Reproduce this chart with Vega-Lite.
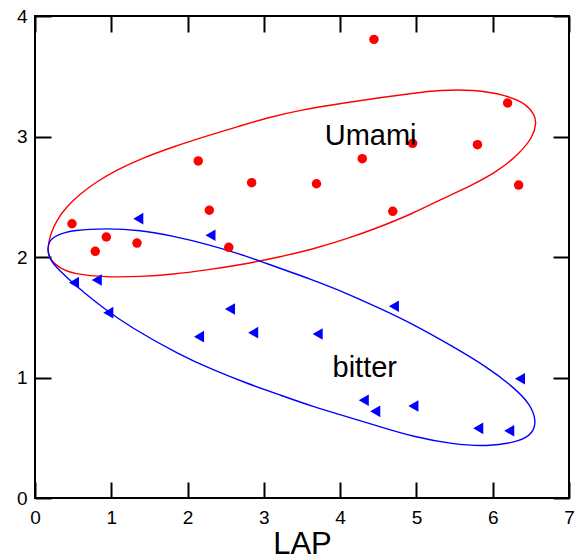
{
  "$schema": "https://vega.github.io/schema/vega-lite/v6.json",
  "width": 534,
  "height": 482,
  "autosize": {"type": "none"},
  "padding": {"left": 35, "top": 16, "right": 15, "bottom": 62},
  "config": {
    "view": {"stroke": "#000", "strokeWidth": 2},
    "font": "Liberation Sans",
    "axis": {
      "domain": false, "grid": false,
      "tickColor": "#000", "tickWidth": 2, "tickSize": -16,
      "labelColor": "#000", "labelFontSize": 19, "labelFont": "Liberation Sans",
      "labelFlush": false, "labelOverlap": false,
      "titleColor": "#000", "titleFont": "Liberation Sans", "titleFontWeight": "normal"
    }
  },
  "datasets": {
    "pts": [
      {"taste": "Umami", "LAP": 0.485, "v": 2.276},
      {"taste": "Umami", "LAP": 0.79, "v": 2.047},
      {"taste": "Umami", "LAP": 0.935, "v": 2.166},
      {"taste": "Umami", "LAP": 1.337, "v": 2.116},
      {"taste": "Umami", "LAP": 2.14, "v": 2.797},
      {"taste": "Umami", "LAP": 2.84, "v": 2.617},
      {"taste": "Umami", "LAP": 2.285, "v": 2.388},
      {"taste": "Umami", "LAP": 2.54, "v": 2.08},
      {"taste": "Umami", "LAP": 4.443, "v": 3.806},
      {"taste": "Umami", "LAP": 6.195, "v": 3.278},
      {"taste": "Umami", "LAP": 4.95, "v": 2.943},
      {"taste": "Umami", "LAP": 5.8, "v": 2.932},
      {"taste": "Umami", "LAP": 4.29, "v": 2.816},
      {"taste": "Umami", "LAP": 3.69, "v": 2.608},
      {"taste": "Umami", "LAP": 6.34, "v": 2.597},
      {"taste": "Umami", "LAP": 4.69, "v": 2.379},
      {"taste": "bitter", "LAP": 1.354, "v": 2.318},
      {"taste": "bitter", "LAP": 2.3, "v": 2.18},
      {"taste": "bitter", "LAP": 0.511, "v": 1.787},
      {"taste": "bitter", "LAP": 0.81, "v": 1.809},
      {"taste": "bitter", "LAP": 0.961, "v": 1.538},
      {"taste": "bitter", "LAP": 2.15, "v": 1.339},
      {"taste": "bitter", "LAP": 2.556, "v": 1.568},
      {"taste": "bitter", "LAP": 2.86, "v": 1.372},
      {"taste": "bitter", "LAP": 3.705, "v": 1.361},
      {"taste": "bitter", "LAP": 4.705, "v": 1.591},
      {"taste": "bitter", "LAP": 6.357, "v": 0.99},
      {"taste": "bitter", "LAP": 4.31, "v": 0.811},
      {"taste": "bitter", "LAP": 4.46, "v": 0.719},
      {"taste": "bitter", "LAP": 4.96, "v": 0.763},
      {"taste": "bitter", "LAP": 5.81, "v": 0.578},
      {"taste": "bitter", "LAP": 6.216, "v": 0.558}
    ],
    "ell": [
      {"taste": "Umami", "i": 0, "LAP": 0.161, "v": 2.058},
      {"taste": "Umami", "i": 1, "LAP": 0.197, "v": 2.183},
      {"taste": "Umami", "i": 2, "LAP": 0.284, "v": 2.307},
      {"taste": "Umami", "i": 3, "LAP": 0.415, "v": 2.417},
      {"taste": "Umami", "i": 4, "LAP": 0.59, "v": 2.523},
      {"taste": "Umami", "i": 5, "LAP": 0.808, "v": 2.625},
      {"taste": "Umami", "i": 6, "LAP": 1.07, "v": 2.722},
      {"taste": "Umami", "i": 7, "LAP": 1.376, "v": 2.813},
      {"taste": "Umami", "i": 8, "LAP": 1.812, "v": 2.915},
      {"taste": "Umami", "i": 9, "LAP": 2.249, "v": 3.004},
      {"taste": "Umami", "i": 10, "LAP": 2.686, "v": 3.087},
      {"taste": "Umami", "i": 11, "LAP": 3.035, "v": 3.154},
      {"taste": "Umami", "i": 12, "LAP": 3.472, "v": 3.22},
      {"taste": "Umami", "i": 13, "LAP": 4.084, "v": 3.282},
      {"taste": "Umami", "i": 14, "LAP": 4.52, "v": 3.322},
      {"taste": "Umami", "i": 15, "LAP": 4.952, "v": 3.359},
      {"taste": "Umami", "i": 16, "LAP": 5.306, "v": 3.386},
      {"taste": "Umami", "i": 17, "LAP": 5.742, "v": 3.39},
      {"taste": "Umami", "i": 18, "LAP": 6.18, "v": 3.344},
      {"taste": "Umami", "i": 19, "LAP": 6.442, "v": 3.27},
      {"taste": "Umami", "i": 20, "LAP": 6.551, "v": 3.178},
      {"taste": "Umami", "i": 21, "LAP": 6.573, "v": 3.11},
      {"taste": "Umami", "i": 22, "LAP": 6.528, "v": 2.998},
      {"taste": "Umami", "i": 23, "LAP": 6.354, "v": 2.861},
      {"taste": "Umami", "i": 24, "LAP": 6.092, "v": 2.722},
      {"taste": "Umami", "i": 25, "LAP": 5.742, "v": 2.598},
      {"taste": "Umami", "i": 26, "LAP": 5.306, "v": 2.473},
      {"taste": "Umami", "i": 27, "LAP": 4.952, "v": 2.361},
      {"taste": "Umami", "i": 28, "LAP": 4.52, "v": 2.249},
      {"taste": "Umami", "i": 29, "LAP": 4.084, "v": 2.149},
      {"taste": "Umami", "i": 30, "LAP": 3.646, "v": 2.066},
      {"taste": "Umami", "i": 31, "LAP": 3.21, "v": 2.0},
      {"taste": "Umami", "i": 32, "LAP": 2.686, "v": 1.934},
      {"taste": "Umami", "i": 33, "LAP": 2.249, "v": 1.892},
      {"taste": "Umami", "i": 34, "LAP": 1.812, "v": 1.856},
      {"taste": "Umami", "i": 35, "LAP": 1.376, "v": 1.837},
      {"taste": "Umami", "i": 36, "LAP": 0.939, "v": 1.832},
      {"taste": "Umami", "i": 37, "LAP": 0.502, "v": 1.859},
      {"taste": "Umami", "i": 38, "LAP": 0.328, "v": 1.906},
      {"taste": "Umami", "i": 39, "LAP": 0.197, "v": 1.975},
      {"taste": "bitter", "i": 0, "LAP": 0.161, "v": 2.066},
      {"taste": "bitter", "i": 1, "LAP": 0.183, "v": 2.133},
      {"taste": "bitter", "i": 2, "LAP": 0.284, "v": 2.183},
      {"taste": "bitter", "i": 3, "LAP": 0.502, "v": 2.224},
      {"taste": "bitter", "i": 4, "LAP": 0.939, "v": 2.238},
      {"taste": "bitter", "i": 5, "LAP": 1.376, "v": 2.224},
      {"taste": "bitter", "i": 6, "LAP": 1.812, "v": 2.174},
      {"taste": "bitter", "i": 7, "LAP": 2.249, "v": 2.108},
      {"taste": "bitter", "i": 8, "LAP": 2.686, "v": 2.025},
      {"taste": "bitter", "i": 9, "LAP": 2.97, "v": 1.961},
      {"taste": "bitter", "i": 10, "LAP": 3.646, "v": 1.809},
      {"taste": "bitter", "i": 11, "LAP": 4.084, "v": 1.699},
      {"taste": "bitter", "i": 12, "LAP": 4.52, "v": 1.574},
      {"taste": "bitter", "i": 13, "LAP": 4.952, "v": 1.444},
      {"taste": "bitter", "i": 14, "LAP": 5.48, "v": 1.256},
      {"taste": "bitter", "i": 15, "LAP": 5.918, "v": 1.09},
      {"taste": "bitter", "i": 16, "LAP": 6.266, "v": 0.924},
      {"taste": "bitter", "i": 17, "LAP": 6.485, "v": 0.786},
      {"taste": "bitter", "i": 18, "LAP": 6.573, "v": 0.647},
      {"taste": "bitter", "i": 19, "LAP": 6.528, "v": 0.537},
      {"taste": "bitter", "i": 20, "LAP": 6.354, "v": 0.467},
      {"taste": "bitter", "i": 21, "LAP": 5.918, "v": 0.426},
      {"taste": "bitter", "i": 22, "LAP": 5.48, "v": 0.446},
      {"taste": "bitter", "i": 23, "LAP": 4.952, "v": 0.509},
      {"taste": "bitter", "i": 24, "LAP": 4.52, "v": 0.592},
      {"taste": "bitter", "i": 25, "LAP": 4.084, "v": 0.675},
      {"taste": "bitter", "i": 26, "LAP": 3.646, "v": 0.758},
      {"taste": "bitter", "i": 27, "LAP": 3.21, "v": 0.855},
      {"taste": "bitter", "i": 28, "LAP": 2.774, "v": 0.952},
      {"taste": "bitter", "i": 29, "LAP": 2.336, "v": 1.062},
      {"taste": "bitter", "i": 30, "LAP": 1.9, "v": 1.187},
      {"taste": "bitter", "i": 31, "LAP": 1.245, "v": 1.419},
      {"taste": "bitter", "i": 32, "LAP": 0.895, "v": 1.577},
      {"taste": "bitter", "i": 33, "LAP": 0.633, "v": 1.71},
      {"taste": "bitter", "i": 34, "LAP": 0.459, "v": 1.805},
      {"taste": "bitter", "i": 35, "LAP": 0.328, "v": 1.884},
      {"taste": "bitter", "i": 36, "LAP": 0.197, "v": 1.971}
    ],
    "labels": [
      {"label": "Umami", "LAP": 4.4, "v": 2.929},
      {"label": "bitter", "LAP": 4.323, "v": 1.002}
    ]
  },
  "layer": [
    {
      "data": {"name": "ell"},
      "mark": {"type": "line", "interpolate": "basis-closed", "strokeWidth": 1.4},
      "encoding": {
        "x": {"field": "LAP", "type": "quantitative", "scale": {"domain": [0, 7], "nice": false},
              "axis": {"orient": "top", "labels": false, "title": null, "values": [0, 1, 2, 3, 4, 5, 6, 7]}},
        "y": {"field": "v", "type": "quantitative", "scale": {"domain": [0, 4], "nice": false},
              "axis": {"orient": "right", "labels": false, "title": null, "values": [0, 1, 2, 3, 4]}},
        "order": {"field": "i", "type": "quantitative"},
        "detail": {"field": "taste"},
        "color": {"field": "taste", "type": "nominal", "scale": {"domain": ["Umami", "bitter"], "range": ["#ff0000", "#0000ff"]}, "legend": null}
      }
    },
    {
      "data": {"name": "pts"},
      "mark": {"type": "point", "filled": true, "opacity": 1},
      "encoding": {
        "x": {"field": "LAP", "type": "quantitative", "scale": {"domain": [0, 7], "nice": false},
              "axis": {"orient": "bottom", "title": "LAP", "titleFontSize": 31, "titlePadding": 2, "labelPadding": 26, "values": [0, 1, 2, 3, 4, 5, 6, 7]}},
        "y": {"field": "v", "type": "quantitative", "scale": {"domain": [0, 4], "nice": false},
              "axis": {"orient": "left", "title": null, "labelPadding": 24, "values": [0, 1, 2, 3, 4]}},
        "color": {"field": "taste", "type": "nominal", "scale": {"domain": ["Umami", "bitter"], "range": ["#ff0000", "#0000ff"]}, "legend": null},
        "shape": {"field": "taste", "type": "nominal", "scale": {"domain": ["Umami", "bitter"], "range": ["circle", "triangle-left"]}, "legend": null},
        "size": {"field": "taste", "type": "nominal", "scale": {"domain": ["Umami", "bitter"], "range": [90, 135]}, "legend": null}
      }
    },
    {
      "data": {"name": "labels"},
      "mark": {"type": "text", "align": "center", "baseline": "alphabetic", "fontSize": 29, "font": "Liberation Sans", "color": "#000"},
      "encoding": {
        "x": {"field": "LAP", "type": "quantitative", "scale": {"domain": [0, 7], "nice": false}, "axis": null},
        "y": {"field": "v", "type": "quantitative", "scale": {"domain": [0, 4], "nice": false}, "axis": null},
        "text": {"field": "label"}
      }
    }
  ],
  "resolve": {"axis": {"x": "independent", "y": "independent"}}
}
